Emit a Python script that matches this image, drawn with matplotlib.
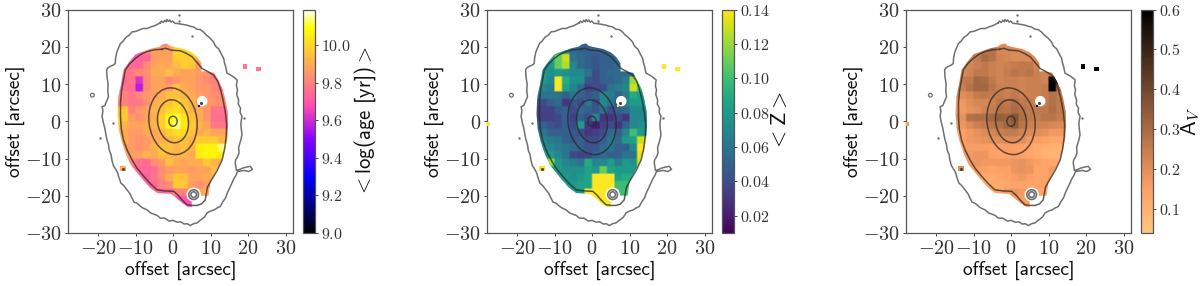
import matplotlib
matplotlib.use("Agg")
import numpy as np
import matplotlib.pyplot as plt
from matplotlib.patches import Polygon, Circle, Ellipse
from matplotlib.ticker import FuncFormatter

plt.rcParams['mathtext.fontset'] = 'cm'

# Grid of the binned maps (arcsec, centres)
grid_x = [-15, -13, -11, -9, -7, -5, -3, -1, 1, 3, 5, 7, 9, 11, 13, 15]
grid_y = [21, 19, 17, 15, 13, 11, 9, 7, 5, 3, 1, -1, -3, -5, -7, -9, -11, -13, -15, -17, -19, -21, -23]

age_map = [
    [9.84, 9.84, 9.84, 9.84, 9.84, 9.84, 9.80, 9.86, 10.0, 10.03, 10.03, 9.90, 9.85, 9.85, 9.85, 9.85],
    [9.74, 9.74, 9.74, 9.74, 9.82, 9.86, 9.86, 9.86, 9.99, 9.99, 10.02, 10.02, 9.85, 9.85, 9.85, 9.85],
    [9.73, 9.73, 9.73, 9.73, 9.74, 9.86, 9.88, 9.88, 9.98, 9.98, 9.98, 9.92, 9.86, 9.86, 9.86, 9.86],
    [9.74, 9.74, 9.74, 9.74, 9.82, 9.88, 9.90, 9.89, 9.93, 9.98, 9.96, 9.86, 9.83, 9.83, 9.83, 9.83],
    [9.78, 9.78, 9.78, 9.82, 9.84, 9.90, 9.90, 9.94, 9.90, 9.88, 9.88, 9.86, 9.84, 9.81, 9.81, 9.81],
    [9.75, 9.75, 9.77, 9.62, 9.82, 9.88, 9.88, 9.82, 9.85, 9.88, 9.88, 9.85, 9.82, 9.80, 9.78, 9.78],
    [9.77, 9.77, 9.75, 9.57, 9.82, 9.88, 9.88, 9.87, 9.94, 9.90, 9.88, 9.85, 9.85, 9.82, 9.78, 9.78],
    [9.80, 9.80, 9.78, 9.82, 9.85, 9.87, 9.90, 9.95, 9.95, 9.92, 9.90, 9.87, 9.85, 9.83, 9.82, 9.82],
    [9.80, 9.80, 9.78, 9.78, 9.83, 9.90, 9.92, 9.95, 10.0, 9.95, 9.92, 9.88, 9.85, 9.85, 9.83, 9.83],
    [9.96, 9.96, 9.80, 9.85, 9.88, 9.92, 9.95, 10.0, 10.02, 9.98, 9.92, 9.90, 9.85, 9.77, 9.77, 9.77],
    [9.98, 9.98, 9.86, 9.83, 9.88, 9.90, 9.98, 10.08, 10.12, 10.03, 9.95, 9.90, 9.85, 9.76, 9.76, 9.77],
    [9.96, 9.92, 9.88, 9.88, 9.90, 9.92, 9.98, 10.07, 10.14, 10.05, 9.97, 9.92, 9.88, 9.78, 9.78, 9.78],
    [9.90, 9.90, 9.86, 9.86, 9.90, 9.88, 9.92, 9.98, 10.02, 10.0, 9.95, 9.90, 9.92, 9.88, 9.88, 9.88],
    [9.90, 9.90, 9.86, 9.84, 9.86, 9.90, 9.90, 9.92, 9.95, 9.95, 9.92, 9.97, 9.98, 9.98, 9.92, 9.92],
    [9.87, 9.87, 9.86, 9.84, 9.86, 9.92, 9.95, 9.95, 9.92, 9.95, 9.92, 10.05, 10.07, 10.07, 10.14, 10.14],
    [9.87, 9.87, 9.86, 9.88, 9.92, 9.90, 9.95, 9.92, 9.92, 9.92, 9.90, 10.05, 10.07, 10.07, 10.05, 10.05],
    [9.80, 9.80, 9.80, 9.77, 9.75, 9.83, 9.86, 9.95, 9.90, 9.88, 9.90, 9.90, 9.97, 9.92, 9.90, 9.90],
    [9.75, 9.75, 9.75, 9.74, 9.74, 9.75, 9.83, 9.86, 9.88, 9.88, 9.86, 9.88, 9.88, 9.95, 9.95, 9.90],
    [9.75, 9.75, 9.75, 9.74, 9.73, 9.77, 9.83, 9.90, 9.97, 9.95, 9.88, 9.88, 9.90, 9.92, 9.92, 9.92],
    [9.75, 9.75, 9.75, 9.74, 9.74, 9.74, 9.80, 9.83, 9.97, 9.97, 9.86, 9.84, 9.86, 9.90, 9.92, 9.92],
    [9.74, 9.74, 9.74, 9.74, 9.74, 9.77, 9.73, 9.74, 9.80, 9.80, 9.88, 9.90, 9.90, 9.90, 9.90, 9.90],
    [9.72, 9.72, 9.72, 9.72, 9.72, 9.72, 9.74, 9.72, 9.70, 9.70, 9.70, 9.72, 9.72, 9.72, 9.72, 9.72],
    [9.72, 9.72, 9.72, 9.72, 9.72, 9.72, 9.72, 9.72, 9.70, 9.70, 9.70, 9.72, 9.72, 9.72, 9.72, 9.72],
]
z_map = [
    [.05, .05, .05, .05, .05, .05, .05, .05, .05, .05, .05, .05, .05, .05, .05, .05],
    [.09, .09, .09, .09, .075, .055, .05, .05, .05, .05, .05, .05, .05, .05, .05, .05],
    [.09, .09, .09, .11, .13, .06, .055, .05, .045, .05, .05, .055, .055, .055, .055, .055],
    [.08, .08, .08, .11, .125, .07, .055, .05, .045, .05, .05, .055, .055, .055, .055, .055],
    [.08, .08, .075, .08, .075, .07, .07, .06, .04, .05, .055, .055, .055, .055, .055, .055],
    [.08, .08, .07, .14, .09, .075, .075, .045, .04, .05, .05, .055, .065, .12, .12, .12],
    [.07, .07, .065, .14, .085, .07, .055, .035, .04, .04, .06, .065, .07, .13, .10, .10],
    [.06, .06, .06, .06, .05, .06, .05, .045, .05, .07, .065, .05, .065, .09, .08, .08],
    [.04, .04, .05, .055, .03, .045, .04, .06, .04, .07, .06, .045, .07, .08, .08, .08],
    [.035, .035, .035, .045, .05, .04, .055, .05, .045, .06, .04, .05, .055, .07, .07, .07],
    [.035, .035, .035, .04, .05, .035, .05, .04, .07, .03, .03, .04, .03, .07, .07, .07],
    [.05, .05, .045, .04, .05, .04, .08, .03, .02, .035, .04, .03, .05, .07, .075, .075],
    [.06, .06, .05, .05, .05, .045, .04, .03, .035, .04, .055, .05, .07, .10, .08, .08],
    [.07, .07, .065, .06, .05, .045, .05, .04, .04, .05, .06, .055, .08, .085, .13, .14],
    [.07, .07, .07, .065, .06, .055, .05, .045, .045, .055, .06, .05, .05, .07, .14, .14],
    [.08, .08, .08, .07, .06, .04, .035, .04, .05, .055, .05, .05, .06, .06, .135, .14],
    [.09, .09, .12, .08, .07, .065, .06, .09, .07, .07, .08, .065, .08, .075, .13, .13],
    [.08, .08, .08, .08, .075, .075, .075, .085, .08, .11, .085, .08, .08, .08, .08, .08],
    [.08, .08, .08, .08, .08, .075, .08, .085, .14, .14, .14, .085, .09, .09, .09, .09],
    [.08, .08, .08, .08, .08, .08, .085, .085, .14, .14, .14, .10, .10, .095, .08, .08],
    [.08, .08, .08, .08, .08, .08, .08, .14, .14, .14, .14, .10, .10, .10, .10, .10],
    [.14, .14, .14, .14, .14, .14, .14, .14, .14, .14, .14, .14, .14, .14, .14, .14],
    [.14, .14, .14, .14, .14, .14, .14, .14, .14, .14, .14, .14, .14, .14, .14, .14],
]
av_map = [
    [.20, .20, .20, .20, .20, .20, .20, .20, .18, .18, .18, .18, .18, .18, .18, .18],
    [.22, .22, .22, .22, .27, .28, .22, .22, .21, .20, .20, .20, .20, .20, .20, .20],
    [.22, .22, .22, .25, .30, .28, .23, .22, .21, .21, .21, .21, .21, .21, .21, .21],
    [.22, .22, .22, .24, .26, .24, .23, .24, .25, .26, .26, .22, .22, .22, .22, .22],
    [.22, .22, .23, .26, .26, .24, .23, .25, .27, .26, .27, .24, .23, .23, .23, .23],
    [.25, .25, .26, .31, .30, .26, .23, .24, .24, .23, .24, .24, .23, .58, .58, .58],
    [.24, .24, .28, .31, .31, .27, .24, .24, .24, .23, .24, .24, .25, .60, .30, .30],
    [.20, .20, .22, .25, .26, .25, .25, .24, .26, .24, .24, .24, .25, .28, .26, .26],
    [.17, .17, .20, .22, .22, .24, .27, .26, .29, .26, .25, .24, .25, .28, .26, .26],
    [.17, .17, .19, .20, .23, .25, .28, .27, .30, .28, .26, .26, .26, .29, .26, .26],
    [.19, .19, .28, .29, .29, .31, .33, .32, .36, .29, .26, .25, .27, .27, .25, .25],
    [.18, .18, .21, .24, .25, .27, .28, .31, .34, .27, .24, .23, .23, .22, .21, .21],
    [.15, .15, .17, .19, .21, .22, .24, .25, .25, .23, .21, .20, .19, .17, .17, .17],
    [.15, .15, .17, .18, .19, .20, .20, .21, .21, .20, .17, .16, .15, .13, .13, .13],
    [.15, .15, .16, .16, .16, .15, .15, .16, .15, .15, .14, .12, .11, .10, .10, .10],
    [.17, .17, .17, .18, .18, .15, .14, .15, .16, .15, .14, .12, .10, .09, .10, .10],
    [.17, .17, .17, .18, .17, .17, .17, .17, .18, .19, .17, .15, .14, .13, .13, .13],
    [.16, .16, .16, .16, .15, .14, .15, .15, .18, .19, .18, .14, .14, .17, .14, .14],
    [.16, .16, .16, .14, .12, .12, .13, .14, .16, .17, .15, .14, .14, .16, .14, .14],
    [.16, .16, .16, .14, .12, .12, .12, .13, .14, .14, .14, .14, .15, .14, .14, .14],
    [.15, .15, .15, .15, .15, .15, .14, .17, .18, .17, .16, .14, .14, .14, .14, .14],
    [.14, .14, .14, .14, .14, .14, .14, .16, .16, .16, .16, .14, .14, .14, .14, .14],
    [.14, .14, .14, .14, .14, .14, .14, .14, .16, .16, .14, .14, .14, .14, .14, .14],
]

# Edge of the binned region
edge_x = [-3.6, -2.8, -1.6, -0.8, 1.0, 3.0, 5.0, 6.5, 7.6, 7.6, 9.0, 11.0, 12.2, 13.3, 14.0, 14.6, 14.7, 14.5, 13.8, 12.5, 11.0, 10.0, 9.5, 7.5, 7.0, 5.0, 5.0, 4.0, 2.5, 0.5, -0.5, -4.2, -6.2, -8.2, -11.2, -12.5, -13.7, -14.5, -14.8, -14.6, -13.9, -13.2, -11.8, -10.0, -7.2, -5.5]
edge_y = [20.0, 20.6, 20.9, 20.2, 19.8, 19.4, 18.5, 17.2, 15.5, 13.4, 13.4, 13.0, 10.8, 8.5, 5.8, 2.5, -1.0, -4.5, -8.0, -11.5, -14.2, -16.4, -20.0, -20.0, -18.3, -18.5, -23.0, -23.0, -22.0, -20.3, -19.5, -19.3, -17.8, -15.5, -11.8, -9.0, -5.5, -2.0, 2.0, 6.5, 9.8, 13.8, 15.8, 18.0, 19.0, 19.6]

# Isophotes
outer_x = [-3.4, -3.1, -2.6, -2.2, -1.8, -1.6, -1.2, -0.9, -0.5, -0.1, 0.5, 1.5, 2.6, 3.7, 4.6, 5.5, 6.4, 7.3, 8.2, 8.8, 9.8, 10.8, 11.3, 12.2, 12.9, 13.5, 13.7, 14.0, 14.4, 15.0, 16.0, 17.1, 16.9, 17.2, 17.0, 17.5, 17.4, 18.0, 17.9, 18.4, 18.1, 18.2, 18.4, 18.1, 17.5, 17.6, 17.2, 16.7, 16.6, 16.9, 17.9, 18.5, 19.6, 20.6, 21.2, 20.2, 19.0, 17.2, 16.8, 16.2, 15.8, 15.3, 14.5, 14.0, 13.3, 12.6, 11.9, 11.0, 10.0, 9.1, 8.4, 7.8, 7.1, 6.4, 5.5, 4.6, 3.8, 3.0, 2.1, 1.1, 0.0, -1.0, -2.2, -3.4, -4.2, -5.0, -6.0, -6.9, -8.2, -9.6, -10.4, -11.0, -11.5, -12.3, -12.6, -13.2, -13.9, -14.5, -14.7, -15.2, -15.9, -16.3, -16.5, -17.0, -17.2, -17.6, -17.9, -18.2, -18.6, -18.9, -18.7, -18.9, -18.2, -17.2, -17.4, -17.3, -17.6, -17.7, -17.4, -16.8, -15.9, -15.4, -15.3, -15.0, -14.6, -14.0, -13.4, -12.5, -11.7, -10.9, -10.0, -9.0, -8.0, -6.9, -6.0, -5.0, -4.2]
outer_y = [26.4, 26.9, 26.5, 27.1, 26.7, 27.3, 26.8, 27.2, 26.6, 26.9, 26.3, 26.2, 26.0, 25.8, 25.5, 25.3, 24.7, 24.6, 23.9, 23.2, 22.4, 21.3, 20.2, 19.4, 18.0, 16.9, 15.8, 14.8, 12.9, 12.6, 12.0, 11.1, 9.5, 8.5, 7.2, 5.7, 4.6, 3.5, 2.4, 1.3, -0.5, -2.0, -3.6, -5.0, -7.0, -8.5, -9.6, -10.4, -11.2, -13.2, -12.9, -12.6, -12.3, -12.1, -12.9, -13.5, -13.2, -13.5, -14.5, -15.5, -16.4, -17.5, -19.2, -20.6, -21.6, -22.9, -23.2, -23.8, -24.1, -24.6, -25.7, -26.2, -26.7, -27.3, -27.5, -28.0, -27.5, -27.6, -27.0, -27.1, -26.6, -26.8, -26.0, -26.0, -25.3, -25.0, -24.6, -23.8, -23.2, -22.0, -21.7, -20.5, -19.4, -18.4, -18.0, -17.2, -16.6, -14.8, -14.0, -13.0, -11.9, -10.4, -9.0, -7.8, -6.3, -5.0, -3.5, -1.8, -0.3, 1.3, 2.8, 3.9, 4.2, 6.6, 8.3, 10.0, 11.9, 13.8, 14.3, 14.7, 15.1, 15.5, 17.0, 18.5, 19.5, 20.9, 21.4, 22.6, 23.1, 24.0, 24.1, 24.5, 24.9, 24.9, 25.3, 25.6, 26.0]
contour_x = [-3.0, -2.0, -0.5, 2.0, 3.6, 5.1, 6.4, 7.7, 9.2, 10.8, 11.9, 12.6, 13.4, 14.0, 14.3, 14.2, 13.8, 13.1, 11.8, 10.0, 9.2, 8.9, 8.6, 7.6, 6.4, 5.0, 3.7, 2.4, 1.3, 0.2, -2.2, -4.3, -6.0, -7.8, -9.6, -10.9, -12.2, -13.2, -13.8, -14.0, -14.0, -13.7, -12.7, -11.5, -10.0, -8.5, -6.9, -5.0]
contour_y = [19.3, 19.6, 19.1, 18.9, 18.2, 17.3, 15.8, 14.2, 13.4, 12.4, 10.8, 8.8, 5.5, 2.1, -1.0, -4.1, -7.3, -10.4, -13.2, -16.2, -17.7, -19.3, -21.1, -22.2, -22.6, -22.6, -22.4, -21.1, -19.8, -18.8, -18.7, -18.4, -16.8, -14.8, -12.6, -10.4, -7.8, -5.0, -2.0, 1.3, 5.0, 8.4, 13.8, 15.5, 16.9, 18.0, 18.7, 19.2]

# ellipses (width, height, tilt), centred on the nucleus
ring_w = [12.8, 8.2, 2.2]
ring_h = [18.0, 11.6, 2.7]
ring_angle = [8, 8, 0]

star_x, star_y = 5.5, -19.7
hole_x, hole_y = 7.8, 5.4
dots_x = [1.5, 1.5, 5.0, -19.5, 18.8, -16.0]
dots_y = [28.6, 27.0, 22.8, -4.5, 0.8, -0.5]

spots_x = [19.2, 22.8, -13.4, -27.7, 7.0]
spots_y = [14.7, 14.1, -12.7, -0.7, 4.0]
spot_size = [9, 9, 16, 9, 2]
age_spots = [9.78, 9.78, 9.90, np.nan, 9.35]
z_spots = [0.14, 0.14, 0.14, 0.14, 0.14]
av_spots = [0.6, 0.6, 0.2, 0.16, 0.6]

age_ticks = [9.0, 9.2, 9.4, 9.6, 9.8, 10.0]
z_ticks = [0.02, 0.04, 0.06, 0.08, 0.10, 0.12, 0.14]
av_ticks = [0.1, 0.2, 0.3, 0.4, 0.5, 0.6]
labels = [r'$<$log(age [yr])$>$', r'$<$Z$>$', r'A$_{\mathit{V}}$']

W, H = 1200, 286
fig = plt.figure(figsize=(W / 100, H / 100), dpi=100)

line_dark = '#2a2a2a'
line_gray = '#707070'


def pixel_axes(x0, x1, y0, y1):
    return fig.add_axes([x0 / W, 1 - y1 / H, (x1 - x0) / W, (y1 - y0) / H])


def panel(x0, cb0, data, spots, cmap, vmin, vmax, ticks, label, fmt, lsize, lpad):
    ax = pixel_axes(x0, x0 + 225, 9.5, 233)
    fine = np.repeat(np.repeat(np.array(data), 4, axis=0), 4, axis=1)
    im = ax.imshow(fine, cmap=cmap, vmin=vmin, vmax=vmax, origin='upper', interpolation='bilinear',
                   extent=[grid_x[0] - 1, grid_x[-1] + 1, grid_y[-1] - 1, grid_y[0] + 1], aspect='auto')
    clip = Polygon(np.column_stack([edge_x, edge_y]), closed=True, transform=ax.transData)
    im.set_clip_path(clip)
    ax.scatter(spots_x, spots_y, c=spots, cmap=cmap, vmin=vmin, vmax=vmax, marker='s', s=spot_size, linewidths=0, zorder=3)

    # holes and stars
    ax.add_patch(Circle((hole_x, hole_y), 1.4, fc='white', ec='none', zorder=2.5))
    ax.add_patch(Circle((star_x, star_y), 1.9, fc='white', ec='none', zorder=3))

    ax.plot(outer_x + outer_x[:1], outer_y + outer_y[:1], color=line_gray, lw=1.1, zorder=4)
    ax.plot(contour_x + contour_x[:1], contour_y + contour_y[:1], color=line_dark, lw=1.1, alpha=0.75, zorder=4)
    for w, h, a in zip(ring_w, ring_h, ring_angle):
        ax.add_patch(Ellipse((0, 0), w, h, angle=a, fc='none', ec=line_dark, lw=1.1, alpha=0.75, zorder=4))
    ax.add_patch(Circle((star_x, star_y), 1.3, fc='none', ec=line_gray, lw=1.2, zorder=5))
    ax.add_patch(Circle((star_x, star_y), 0.75, fc='none', ec=line_gray, lw=1.2, zorder=5))
    ax.add_patch(Circle((-21.5, 7.0), 0.5, fc='none', ec=line_gray, lw=0.9, zorder=5))
    ax.scatter(dots_x, dots_y, s=3, color=line_gray, linewidths=0, zorder=5)
    ax.scatter([7.5, -13.4], [5.0, -12.7], s=5, color='#444444', linewidths=0, zorder=5)

    ax.set_xlim(-28, 32)
    ax.set_ylim(-30, 30)
    ax.set_xticks([-20, -10, 0, 10, 20, 30])
    ax.set_yticks([-30, -20, -10, 0, 10, 20, 30])
    ax.xaxis.set_major_formatter(FuncFormatter(lambda v, p: '$%d$' % v))
    ax.yaxis.set_major_formatter(FuncFormatter(lambda v, p: '$%d$' % v))
    ax.tick_params(labelsize=14.5, length=2.5, width=0.7, color='#444444', labelcolor='#333333', pad=2)
    for s in ax.spines.values():
        s.set_linewidth(0.9)
        s.set_color('#555555')
    ax.set_xlabel('offset [arcsec]', family='cmss10', fontsize=14, labelpad=2, color='#111111')
    ax.set_ylabel('offset [arcsec]', family='cmss10', fontsize=14, labelpad=0, color='#111111')

    cax = pixel_axes(cb0, cb0 + 12, 9.5, 233)
    cb = fig.colorbar(im, cax=cax)
    cb.set_ticks(ticks)
    cb.set_ticklabels([('$' + fmt + '$') % t for t in ticks])
    cb.ax.tick_params(labelsize=11.5, length=2.5, width=0.7, color='#444444', labelcolor='#333333', pad=2)
    cb.outline.set_linewidth(0.9)
    cb.outline.set_edgecolor('#555555')
    cb.set_label(label, family='cmss10', fontsize=lsize, labelpad=lpad, color='#111111')


panel(68, 303, age_map, age_spots, 'gnuplot2', 9.0, 10.19, age_ticks, labels[0], '%.1f', 15, 1)
panel(487, 722, z_map, z_spots, 'viridis', 0.01, 0.14, z_ticks, labels[1], '%.2f', 16, 0)
panel(906, 1141, av_map, av_spots, 'copper_r', 0.04, 0.6, av_ticks, labels[2], '%.1f', 16, -1)

fig.savefig('out.png', dpi=100)
